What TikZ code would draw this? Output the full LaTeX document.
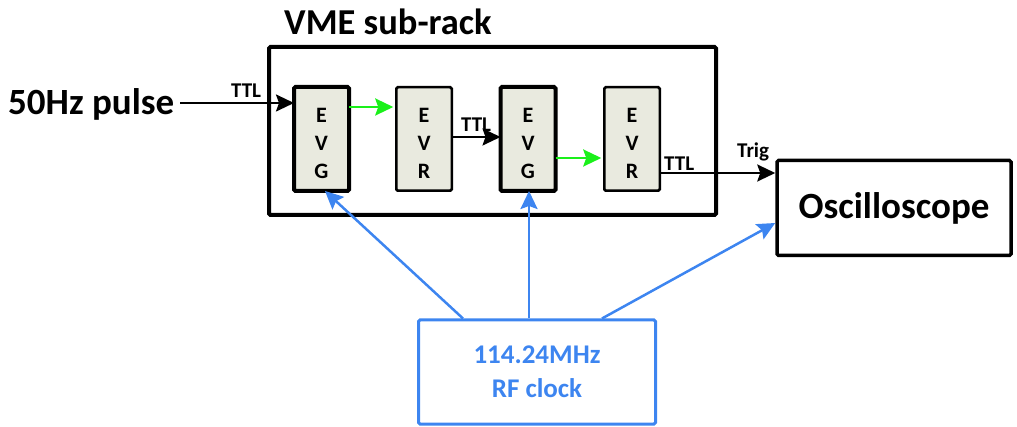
\documentclass[tikz,border=0pt]{standalone}
\usepackage{fontspec}
\setmainfont{Carlito}
\usetikzlibrary{arrows.meta}
\definecolor{evfill}{HTML}{E9EADF}
\definecolor{rfblue}{HTML}{3D85F0}
\definecolor{lgreen}{HTML}{1AF01A}
\tikzset{
  x=1pt, y=-1pt,
  tip/.style={-{Stealth[length=18pt,width=17pt,inset=3pt]}},
  evg/.style={draw, line width=4pt, fill=evfill, rounded corners=1.5pt, minimum width=55pt, minimum height=104pt, inner sep=0pt, outer sep=0pt},
  evr/.style={draw, line width=2.5pt, fill=evfill, rounded corners=1.5pt, minimum width=55.5pt, minimum height=103.5pt, inner sep=0pt, outer sep=0pt},
  letters/.style={font=\fontsize{22}{28}\selectfont\bfseries, align=center, inner sep=0pt},
  blk/.style={tip, line width=2.2pt, black},
  grn/.style={tip, line width=2.6pt, lgreen, shorten >=3pt},
  blu/.style={tip, line width=2.5pt, rfblue},
  small/.style={font=\fontsize{21}{24}\selectfont\bfseries, inner sep=0pt},
}
\begin{document}
\begin{tikzpicture}
\useasboundingbox (0,0) rectangle (1017,427);
% rack
\node[draw, line width=4pt, rounded corners=1.5pt, minimum width=447pt, minimum height=168pt, inner sep=0pt] (rack) at (492.5,131) {};
\node[anchor=base west, inner sep=0pt, font=\fontsize{36.5}{40}\selectfont\bfseries] (racklbl) at (284,35) {VME sub-rack};
% modules
\node[evg] (evg1) at (321.5,139) {};
\node[evr] (evr1) at (424,139) {};
\node[evg] (evg2) at (528,139) {};
\node[evr] (evr2) at (632,139) {};
\node[letters] (t1) at (321.5,143.5) {E\\V\\G};
\node[letters] (t2) at (424,143.5) {E\\V\\R};
\node[letters] (t3) at (528,143.5) {E\\V\\G};
\node[letters] (t4) at (632,143.5) {E\\V\\R};
% oscilloscope
\node[draw, line width=3.5pt, rounded corners=1.5pt, minimum width=234pt, minimum height=95pt, inner sep=0pt, font=\fontsize{37}{40}\selectfont\bfseries] (osc) at (894,208) {Oscilloscope};
% RF clock
\node[draw=rfblue, text=rfblue, line width=3pt, rounded corners=1.5pt, minimum width=237pt, minimum height=104pt, inner sep=0pt, align=center, font=\fontsize{27}{34}\selectfont\bfseries] (rf) at (537,372) {114.24MHz\\RF clock};
% input
\node[anchor=base west, inner sep=0pt, font=\fontsize{37}{40}\selectfont\bfseries] (pulse) at (8,115) {50Hz pulse};
\coordinate (pin) at (180,103);
\draw[blk] (pin) -- (pin -| evg1.west);
\node[small, anchor=base west] (ttl0) at (231,98) {TTL};
% chain
\draw[grn] (evg1.east |- 0,107) -- (evr1.west |- 0,107);
\draw[blk] (evr1.east |- 0,137) -- (evg2.west |- 0,137);
\node[small, anchor=base west] (ttl1) at (461,132) {TTL};
\draw[grn] (evg2.east |- 0,158) -- (evr2.west |- 0,158);
\draw[blk] (evr2.east |- 0,173) -- (osc.west |- 0,173);
\node[small, anchor=base west] (ttl2) at (664,171) {TTL};
\node[small, anchor=base west] (trig) at (737,158) {Trig};
% clock distribution
\draw[blu] (463,0 |- rf.north) -- (325,0 |- evg1.south);
\draw[blu] (529,0 |- rf.north) -- (529,0 |- evg2.south);
\draw[blu] (602,0 |- rf.north) -- (osc.west |- 0,223);
\end{tikzpicture}
\end{document}
